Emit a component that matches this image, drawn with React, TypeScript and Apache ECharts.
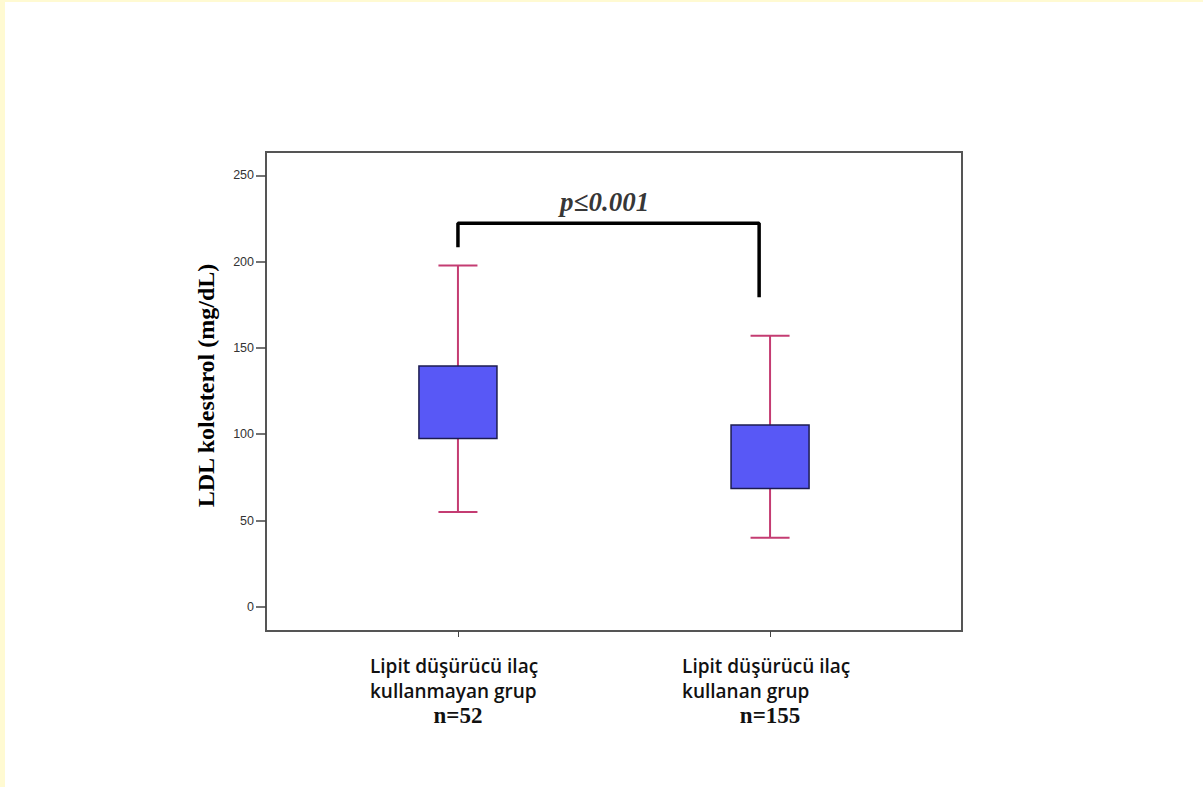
import React, { useEffect, useRef } from "react";
import * as echarts from "echarts";

// ---- data ----
const categoryLines: string[][] = [
  ["Lipit düşürücü ilaç", "kullanmayan grup"],
  ["Lipit düşürücü ilaç", "kullanan grup"],
];
const groupSizes = ["n=52", "n=155"];
const categoryPositions = [1, 2];
const whiskerLow = [55, 40];
const q1 = [97.5, 68.5];
const q3 = [139.5, 105.4];
const whiskerHigh = [197.8, 157];
const yTicks = [0, 50, 100, 150, 200, 250];
const bracketPoints: number[][] = [
  [1, 208.3],
  [1, 222.2],
  [1.965, 222.2],
  [1.965, 179.4],
];
const pLabel = "p≤0.001";
const pLabelPos = [1.47, 234.3];
const yTitle = "LDL kolesterol (mg/dL)";

export default function App() {
  const ref = useRef<HTMLDivElement>(null);
  useEffect(() => {
    if (!ref.current) return;
    const chart = echarts.init(ref.current, null, { renderer: "svg" });
    const boxData = categoryPositions.map((x, i) => [x, whiskerLow[i], q1[i], q3[i], whiskerHigh[i]]);
    const option: any = {
      animation: false,
      backgroundColor: "#ffffff",
      graphic: [
        { type: "rect", shape: { x: 0, y: 0, width: 5, height: 787 }, style: { fill: "#fffad2" }, z: 100 },
        { type: "rect", shape: { x: 0, y: 0, width: 1203, height: 2 }, style: { fill: "#fffad2" }, z: 100 },
      ],
      grid: {
        left: 266,
        top: 152,
        width: 696,
        height: 479,
        show: true,
        borderColor: "#555555",
        borderWidth: 2,
        backgroundColor: "transparent",
      },
      xAxis: {
        type: "value",
        min: 0.385,
        max: 2.615,
        splitLine: { show: false },
        axisLine: { show: true, onZero: false, lineStyle: { color: "#555555", width: 2 } },
        axisTick: { show: true, length: 6, customValues: categoryPositions, lineStyle: { color: "#444", width: 1 } },
        axisLabel: {
          show: true,
          customValues: categoryPositions,
          margin: 22,
          formatter: (v: number) => {
            const i = categoryPositions.indexOf(Math.round(v));
            if (i < 0) return "";
            return categoryLines[i].map((l) => `{a|${l}}`).join("\n") + `\n{n|${groupSizes[i]}}`;
          },
          rich: {
            a: {
              fontFamily: "Open Sans",
              fontWeight: 600,
              fontSize: 19,
              lineHeight: 25,
              width: 176,
              align: "left",
              color: "#111",
            },
            n: {
              fontFamily: "Liberation Serif",
              fontWeight: "bold",
              fontSize: 23,
              lineHeight: 25,
              width: 176,
              align: "center",
              color: "#111",
            },
          },
        },
      },
      yAxis: {
        type: "value",
        min: -14,
        max: 263.5,
        name: yTitle,
        nameLocation: "middle",
        nameRotate: 90,
        nameGap: 48,
        nameTextStyle: {
          fontFamily: "Liberation Serif",
          fontWeight: "bold",
          fontSize: 24,
          color: "#000",
          padding: [0, 0, 0, 12],
        },
        splitLine: { show: false },
        axisLine: { show: true, onZero: false, lineStyle: { color: "#555555", width: 2 } },
        axisTick: { show: true, length: 10, customValues: yTicks, lineStyle: { color: "#444", width: 1.5 } },
        axisLabel: {
          show: true,
          customValues: yTicks,
          margin: 12,
          fontFamily: "Liberation Sans",
          fontSize: 12.5,
          color: "#333",
        },
      },
      series: [
        {
          type: "custom",
          data: boxData,
          renderItem: (params: any, api: any) => {
            const x = api.value(0);
            const lo = api.coord([x, api.value(1)]);
            const b1 = api.coord([x, api.value(2)]);
            const b3 = api.coord([x, api.value(3)]);
            const hi = api.coord([x, api.value(4)]);
            const w = api.size([0.25, 0])[0];
            const cw = w / 2;
            const cx = lo[0];
            const wStyle = { stroke: "#c43c72", lineWidth: 2 };
            return {
              type: "group",
              children: [
                { type: "line", shape: { x1: cx, y1: b3[1], x2: cx, y2: hi[1] }, style: wStyle },
                { type: "line", shape: { x1: cx, y1: b1[1], x2: cx, y2: lo[1] }, style: wStyle },
                { type: "line", shape: { x1: cx - cw / 2, y1: hi[1], x2: cx + cw / 2, y2: hi[1] }, style: wStyle },
                { type: "line", shape: { x1: cx - cw / 2, y1: lo[1], x2: cx + cw / 2, y2: lo[1] }, style: wStyle },
                {
                  type: "rect",
                  shape: { x: cx - w / 2, y: b3[1], width: w, height: b1[1] - b3[1] },
                  style: { fill: "#5858f6", stroke: "#1c1c50", lineWidth: 1.5 },
                },
              ],
            };
          },
        },
        {
          type: "line",
          data: bracketPoints,
          symbol: "none",
          lineStyle: { color: "#000", width: 3.5 },
          z: 5,
        },
        {
          type: "scatter",
          data: [pLabelPos],
          symbolSize: 0,
          label: {
            show: true,
            position: "inside",
            formatter: pLabel,
            fontFamily: "Liberation Serif",
            fontWeight: "bold",
            fontStyle: "italic",
            fontSize: 27,
            color: "#000",
          },
        },
      ],
    };
    chart.setOption(option);
    return () => chart.dispose();
  }, []);
  return (
    <div
      ref={ref}
      style={{ position: "fixed", left: 0, top: 0, width: 1203, height: 787, background: "#fff" }}
    />
  );
}
